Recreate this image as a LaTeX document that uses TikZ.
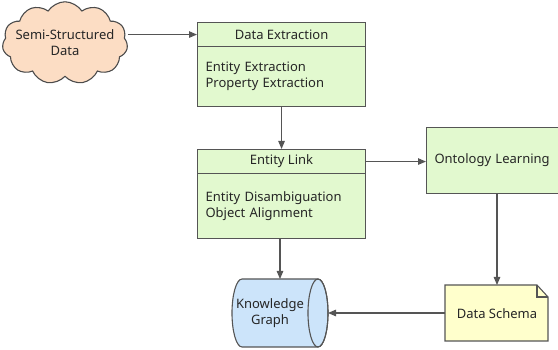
\documentclass[tikz,border=0pt]{standalone}
\usepackage{fontspec}
\setmainfont{Noto Sans}
\usetikzlibrary{arrows.meta,shapes.symbols,shapes.geometric,positioning}
\definecolor{grn}{HTML}{E2F9CF}
\definecolor{peach}{HTML}{FCDDC4}
\definecolor{blu}{HTML}{CCE4FA}
\definecolor{ylw}{HTML}{FFFFCC}
\definecolor{edge}{HTML}{555555}
\begin{document}
\begin{tikzpicture}[x=1pt,y=-1pt,
  every node/.style={font=\fontsize{13}{16}\selectfont, text=black!85},
  hdr/.style={draw=edge, line width=1.1pt, fill=grn, minimum width=168pt, minimum height=24pt, inner sep=0pt, anchor=north west},
  bodybox/.style={draw=edge, line width=1.1pt, fill=grn, minimum width=168pt, inner sep=0pt, anchor=north west, text width=152pt, align=left},
  arr/.style={draw=edge, line width=1.1pt, -{Triangle[length=8pt,width=6.5pt]}},
  ln/.style={draw=edge, line width=1.1pt}]
\useasboundingbox (0,0) rectangle (558,350);
% cloud
\node[cloud, cloud puffs=11, cloud puff arc=115, aspect=1.8, draw=black!70, line width=1.1pt, fill=peach, minimum width=116pt, minimum height=64pt, inner sep=-7pt, align=center] (cloud) at (65,43) {Semi-Structured\\Data};
% Data Extraction
\node[hdr] (de) at (197,22) {Data Extraction};
\node[bodybox, minimum height=60pt] (deb) at (197,46) {Entity Extraction\\Property Extraction};
% Entity Link
\node[hdr] (el) at (197,149) {Entity Link};
\node[bodybox, minimum height=65pt] (elb) at (197,173) {Entity Disambiguation\\Object Alignment};
% Ontology Learning
\node[draw=edge, line width=1.1pt, fill=grn, minimum width=140pt, minimum height=66pt, anchor=north west, text width=124pt, align=left, inner sep=0pt] (ol) at (426,127) {Ontology Learning};
% Knowledge Graph cylinder
\filldraw[draw=edge, line width=1.1pt, fill=blu] (318,279) -- (242,279) arc[start angle=270, end angle=90, x radius=10, y radius=34] -- (318,347) arc[start angle=90, end angle=-90, x radius=10, y radius=34] -- cycle;
\draw[edge, line width=1.1pt] (318,313) ellipse[x radius=10, y radius=34];
\node[align=center, inner sep=0pt] (kg) at (270,313) {Knowledge\\Graph};
\coordinate (kgtop) at (280,279);
\coordinate (kgright) at (328,313);
% Data Schema note
\filldraw[draw=edge, line width=1.1pt, fill=ylw] (445,285) -- (537,285) -- (548,297) -- (548,341) -- (445,341) -- cycle;
\draw[edge, line width=1.1pt] (537,285) -- (537,297) -- (548,297);
\node[inner sep=0pt] (ds) at (497,314) {Data Schema};
\coordinate (dstop) at (497,285);
\coordinate (dsleft) at (445,313);
% connectors
\draw[arr] (cloud.east |- de.west) -- (de.west);
\draw[arr] (deb.south) -- (el.north);
\draw[arr] (el.east) -- (el.east -| ol.west);
\draw[arr] (elb.south -| kgtop) -- (kgtop);
\draw[arr] (ol.south -| dstop) -- (dstop);
\draw[arr] (dsleft) -- (kgright);
\end{tikzpicture}
\end{document}
